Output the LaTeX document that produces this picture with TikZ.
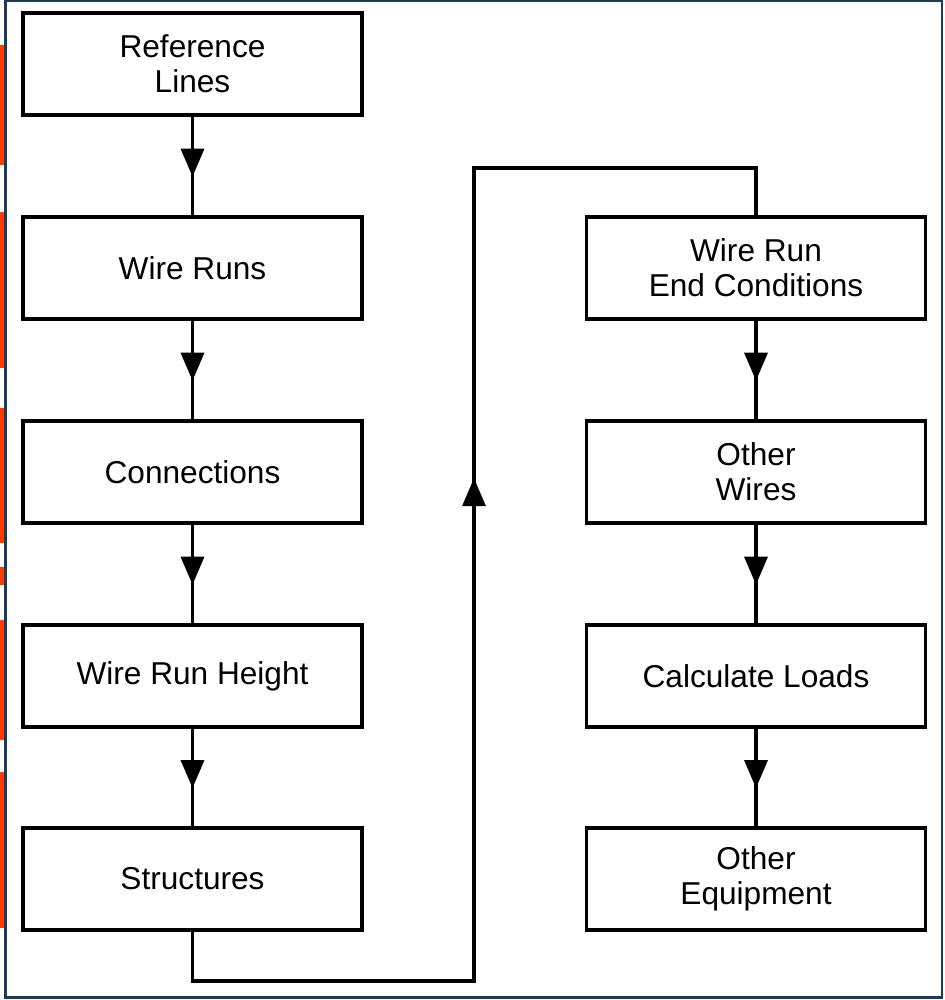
\documentclass[tikz,border=0pt]{standalone}
\usepackage{fontspec}
\setmainfont{Liberation Sans}
\usetikzlibrary{arrows.meta,decorations.markings}
\definecolor{frameblue}{HTML}{1B3B58}
\definecolor{tabred}{HTML}{FF3C00}
\tikzset{
  box/.style={draw,line width=2.2pt,minimum width=6.78cm,minimum height=2.04cm,
    align=center,font=\fontsize{18}{20}\selectfont,inner sep=0pt},
  flow/.style={line width=2.2pt,postaction=decorate,decoration={markings,
    mark=at position #1 with {\arrow{Triangle[width=13pt,length=16pt]}}}}
}
\begin{document}
\begin{tikzpicture}[x=0.02cm,y=-0.02cm]
    \useasboundingbox (0,0) rectangle (944,1000);
    %\draw (0,0) grid[step=100] (944,1000);
      % frame and tabs
      \fill[tabred] (0,45) rectangle (5,165);
      \fill[tabred] (0,212) rectangle (5,368);
      \fill[tabred] (0,408) rectangle (5,543);
      \fill[tabred] (0,567) rectangle (5,585);
      \fill[tabred] (0,620) rectangle (5,740);
      \fill[tabred] (0,772) rectangle (5,928);
      \draw[frameblue,line width=1.2pt] (5.5,1) rectangle (942,997.5);
      % left column
      \node[box] (ref) at (192.5,64) {Reference\\Lines};
      \node[box] (runs) at (192.5,268) {Wire Runs};
      \node[box] (conn) at (192.5,472) {Connections};
      \node[box] (height) at (192.5,676) {Wire Run Height};
      \node[box] (struct) at (192.5,879) {Structures};
      % right column
      \node[box] (endcond) at (756,268) {Wire Run\\End Conditions};
      \node[box] (wires) at (756,472) {Other\\Wires};
      \node[box] (loads) at (756,676) {Calculate Loads};
      \node[box] (equip) at (756,879) {Other\\Equipment};
      \coordinate (lowturn) at (474,981);
      \coordinate (highturn) at (474,168);
      % Edges left
      \draw[flow=0.61] (ref) -- (runs);
      \draw[flow=0.61] (runs) -- (conn);
      \draw[flow=0.61] (conn) -- (height);
      \draw[flow=0.61] (height) -- (struct);
      % Edge across
      \draw[flow=0.566,line join=miter] (struct.south) |- (lowturn) -- (highturn) -| (endcond.north);
      % Edges right
      \draw[flow=0.61] (endcond) -- (wires);
      \draw[flow=0.61] (wires) -- (loads);
      \draw[flow=0.61] (loads) -- (equip);
    \end{tikzpicture}
\end{document}
